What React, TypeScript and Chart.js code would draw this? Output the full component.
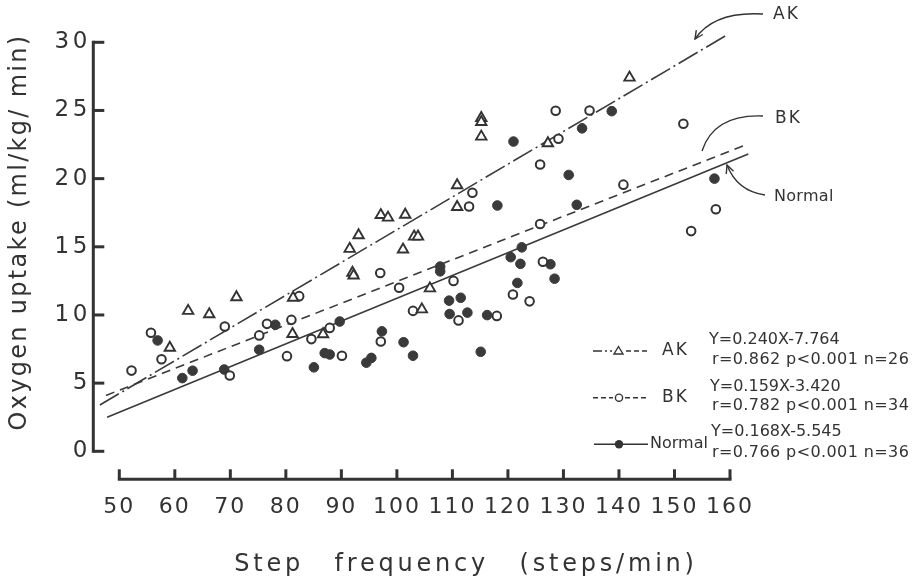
import React, { useEffect, useRef } from "react";
import { Chart, registerables } from "chart.js";

Chart.register(...registerables);

// ---- data ----
const AK_X = [59.1, 62.4, 66.2, 71.1, 81.2, 81.3, 86.7, 91.5, 92.0, 92.2, 93.1, 97.1, 98.4, 101.1, 101.5, 103.1, 103.8, 104.5, 105.95, 110.85, 110.85, 115.2, 115.2, 115.2, 127.2, 141.9];
const AK_Y = [7.6, 10.3, 10.05, 11.3, 8.6, 11.26, 8.59, 14.85, 13.1, 12.9, 15.85, 17.33, 17.14, 14.8, 17.35, 15.75, 15.75, 10.41, 11.95, 19.52, 17.92, 24.45, 24.15, 23.08, 22.6, 27.41];

const BK_X = [52.2, 55.7, 57.6, 69.0, 69.9, 75.2, 76.6, 80.2, 81.0, 82.4, 84.6, 87.9, 90.1, 97.0, 97.1, 100.4, 102.9, 110.2, 111.1, 113.0, 113.6, 118.0, 120.9, 123.9, 125.8, 125.8, 126.3, 128.6, 129.1, 134.7, 140.8, 151.6, 153.0, 157.45];
const BK_Y = [5.92, 8.7, 6.75, 9.15, 5.56, 8.5, 9.35, 6.98, 9.64, 11.38, 8.23, 9.05, 7.01, 13.08, 8.05, 12.0, 10.3, 12.5, 9.6, 17.96, 18.96, 9.93, 11.5, 11.0, 21.04, 16.67, 13.9, 24.98, 22.93, 25.0, 19.56, 24.03, 16.15, 17.75];

const NORMAL_X = [56.9, 61.35, 63.2, 68.9, 75.2, 78.1, 85.05, 87.0, 87.9, 89.7, 94.5, 95.4, 97.3, 101.2, 102.9, 107.8, 107.8, 109.4, 109.5, 111.5, 112.7, 115.1, 116.25, 118.1, 120.5, 121.0, 121.7, 122.25, 122.5, 127.65, 128.4, 130.95, 132.4, 133.35, 138.7, 157.2];
const NORMAL_Y = [8.13, 5.37, 5.91, 6.0, 7.45, 9.28, 6.16, 7.2, 7.1, 9.52, 6.5, 6.85, 8.8, 8.0, 7.01, 13.55, 13.2, 11.05, 10.07, 11.26, 10.17, 7.3, 9.99, 18.03, 14.24, 22.72, 12.35, 13.75, 14.96, 13.72, 12.66, 20.27, 18.08, 23.69, 24.95, 20.0];

// regression line end points (as drawn)
const AK_FIT_X = [46.5, 159.3];
const AK_FIT_Y = [3.4, 30.5];
const BK_FIT_X = [47.6, 163.0];
const BK_FIT_Y = [4.1, 22.5];
const NORMAL_FIT_X = [47.8, 163.3];
const NORMAL_FIT_Y = [2.5, 21.8];

const X_TICKS = [50, 60, 70, 80, 90, 100, 110, 120, 130, 140, 150, 160];
const Y_TICKS = [0, 5, 10, 15, 20, 25, 30];

const SERIES_LABELS = ["AK", "BK", "Normal"];
const EQUATIONS = ["Y=0.240X-7.764", "Y=0.159X-3.420", "Y=0.168X-5.545"];
const STATS = ["r=0.862 p<0.001 n=26", "r=0.782 p<0.001 n=34", "r=0.766 p<0.001 n=36"];

const X_TITLE = "Step frequency (steps/min)";
const Y_TITLE = "Oxygen uptake (ml/kg/ min)";

const FONT = "'DejaVu Sans', sans-serif";
const INK = "#333333";

const pts = (xs: number[], ys: number[]) => xs.map((x, i) => ({ x, y: ys[i] }));

function setLS(ctx: any, v: string) {
  try { ctx.letterSpacing = v; } catch (e) {}
}
function setWS(ctx: any, v: string) {
  try { ctx.wordSpacing = v; } catch (e) {}
}

function arrowHead(ctx: CanvasRenderingContext2D, tx: number, ty: number, fx: number, fy: number) {
  const ang = Math.atan2(ty - fy, tx - fx);
  const L = 9;
  ctx.beginPath();
  ctx.moveTo(tx - L * Math.cos(ang - 0.45), ty - L * Math.sin(ang - 0.45));
  ctx.lineTo(tx, ty);
  ctx.lineTo(tx - L * Math.cos(ang + 0.45), ty - L * Math.sin(ang + 0.45));
  ctx.stroke();
}

const decorPlugin = {
  id: "decor",
  beforeDraw(chart: any) {
    setLS(chart.ctx, "3.5px");
  },
  afterDatasetsDraw(chart: any) {
    setLS(chart.ctx, "2px");
  },
  afterDraw(chart: any) {
    const ctx: CanvasRenderingContext2D = chart.ctx;
    const xs = chart.scales.x;
    const ys = chart.scales.y;
    ctx.save();
    ctx.strokeStyle = INK;
    ctx.fillStyle = INK;
    ctx.lineCap = "butt";

    // detached y axis
    const ax = xs.left - 26;
    ctx.lineWidth = 3;
    ctx.beginPath();
    ctx.moveTo(ax, ys.getPixelForValue(30) - 1.5);
    ctx.lineTo(ax, ys.getPixelForValue(0) + 1.5);
    ctx.stroke();
    Y_TICKS.forEach((v) => {
      const py = ys.getPixelForValue(v);
      ctx.beginPath();
      ctx.moveTo(ax, py);
      ctx.lineTo(ax + 11, py);
      ctx.stroke();
    });

    // detached x axis
    const ay = ys.bottom + 28;
    ctx.beginPath();
    ctx.moveTo(xs.getPixelForValue(50) - 1.5, ay);
    ctx.lineTo(xs.getPixelForValue(160) + 1.5, ay);
    ctx.stroke();
    X_TICKS.forEach((v) => {
      const px = xs.getPixelForValue(v);
      ctx.beginPath();
      ctx.moveTo(px, ay);
      ctx.lineTo(px, ay - 10);
      ctx.stroke();
    });

    // axis titles
    ctx.textBaseline = "middle";
    ctx.textAlign = "center";
    ctx.font = `24px ${FONT}`;
    setLS(ctx, "3.8px");
    setWS(ctx, "19px");
    ctx.fillText(X_TITLE, 466, 565);
    setWS(ctx, "0px");
    ctx.save();
    ctx.translate(20, 232);
    ctx.rotate(-Math.PI / 2);
    setLS(ctx, "2.3px");
    ctx.fillText(Y_TITLE, 0, 0);
    ctx.restore();

    // legend
    const rowsY = [351, 397.7, 444.3];
    ctx.lineWidth = 1.4;
    // AK sample
    ctx.setLineDash([9, 3, 2, 3, 2, 3]);
    ctx.beginPath(); ctx.moveTo(593, rowsY[0]); ctx.lineTo(612, rowsY[0]); ctx.stroke();
    ctx.setLineDash([5, 3]);
    ctx.beginPath(); ctx.moveTo(626, rowsY[0]); ctx.lineTo(648, rowsY[0]); ctx.stroke();
    ctx.setLineDash([]);
    ctx.beginPath();
    ctx.moveTo(618.5, rowsY[0] - 4.5);
    ctx.lineTo(623, rowsY[0] + 3);
    ctx.lineTo(614, rowsY[0] + 3);
    ctx.closePath();
    ctx.stroke();
    // BK sample
    ctx.setLineDash([5, 3]);
    ctx.beginPath(); ctx.moveTo(593, rowsY[1]); ctx.lineTo(613, rowsY[1]); ctx.stroke();
    ctx.beginPath(); ctx.moveTo(625, rowsY[1]); ctx.lineTo(648, rowsY[1]); ctx.stroke();
    ctx.setLineDash([]);
    ctx.beginPath(); ctx.arc(619, rowsY[1], 3.6, 0, Math.PI * 2); ctx.stroke();
    // Normal sample
    ctx.beginPath(); ctx.moveTo(594, rowsY[2]); ctx.lineTo(648, rowsY[2]); ctx.stroke();
    ctx.beginPath(); ctx.arc(619, rowsY[2], 4.2, 0, Math.PI * 2); ctx.fill();

    ctx.textAlign = "left";
    ctx.textBaseline = "middle";
    ctx.font = `17px ${FONT}`;
    setLS(ctx, "2px");
    ctx.fillText(SERIES_LABELS[0], 662, rowsY[0]);
    ctx.fillText(SERIES_LABELS[1], 662, rowsY[1]);
    ctx.font = `16px ${FONT}`;
    setLS(ctx, "0px");
    ctx.fillText(SERIES_LABELS[2], 650, rowsY[2]);

    ctx.font = `16px ${FONT}`;
    const eqY = [340, 387, 431.7];
    const stY = [360, 406, 452.7];
    setLS(ctx, "0px");
    EQUATIONS.forEach((t, i) => ctx.fillText(t, 709 + i, eqY[i]));
    setLS(ctx, "0.4px");
    STATS.forEach((t, i) => ctx.fillText(t, 712, stY[i]));

    // annotations with curved pointers
    ctx.lineWidth = 1.4;
    ctx.font = `17px ${FONT}`;
    setLS(ctx, "2px");
    ctx.fillText(SERIES_LABELS[0], 773, 15);
    ctx.fillText(SERIES_LABELS[1], 775, 119);
    ctx.font = `16px ${FONT}`;
    setLS(ctx, "0.3px");
    ctx.fillText(SERIES_LABELS[2], 774, 197);

    ctx.beginPath();
    ctx.moveTo(763, 14);
    ctx.quadraticCurveTo(714, 11, 695, 39);
    ctx.stroke();
    arrowHead(ctx, 695, 39, 714, 11);

    ctx.beginPath();
    ctx.moveTo(763, 116);
    ctx.quadraticCurveTo(714, 114, 702, 151);
    ctx.stroke();

    ctx.beginPath();
    ctx.moveTo(765, 195);
    ctx.quadraticCurveTo(737, 191, 727, 165);
    ctx.stroke();
    arrowHead(ctx, 727, 165, 737, 191);

    ctx.restore();
    setLS(ctx, "0px");
  },
};

export default function App() {
  const ref = useRef<HTMLCanvasElement | null>(null);

  useEffect(() => {
    document.body.style.margin = "0";
    const canvas = ref.current;
    if (!canvas) return;

    const scatterBase = {
      borderColor: INK,
      order: 0,
    };
    const fitBase = {
      type: "line" as const,
      showLine: true,
      pointRadius: 0,
      borderColor: "#3a3a3a",
      borderWidth: 1.6,
      fill: false,
      clip: false as any,
      order: 10,
    };

    const chart = new Chart(canvas, {
      type: "scatter",
      data: {
        datasets: [
          {
            ...fitBase,
            label: "AK fit",
            data: pts(AK_FIT_X, AK_FIT_Y),
            borderDash: [22, 4, 2, 4],
          } as any,
          {
            ...fitBase,
            label: "BK fit",
            data: pts(BK_FIT_X, BK_FIT_Y),
            borderDash: [9, 6],
          } as any,
          {
            ...fitBase,
            label: "Normal fit",
            data: pts(NORMAL_FIT_X, NORMAL_FIT_Y),
          } as any,
          {
            ...scatterBase,
            label: SERIES_LABELS[0],
            data: pts(AK_X, AK_Y),
            pointStyle: "triangle",
            pointRadius: 6,
            borderWidth: 1.9,
            backgroundColor: "#ffffff",
          },
          {
            ...scatterBase,
            label: SERIES_LABELS[1],
            data: pts(BK_X, BK_Y),
            pointStyle: "circle",
            pointRadius: 4.3,
            borderWidth: 2,
            backgroundColor: "#ffffff",
          },
          {
            ...scatterBase,
            label: SERIES_LABELS[2],
            data: pts(NORMAL_X, NORMAL_Y),
            pointStyle: "circle",
            pointRadius: 4.8,
            borderWidth: 1,
            borderColor: "#3a3a3a",
            backgroundColor: "#3a3a3a",
          },
        ],
      },
      options: {
        responsive: false,
        animation: false,
        events: [],
        layout: { padding: { left: 0, right: 183, top: 39.3, bottom: 0 } },
        plugins: {
          legend: { display: false },
          tooltip: { enabled: false },
          title: { display: false },
        },
        scales: {
          x: {
            type: "linear",
            min: 50,
            max: 160,
            afterBuildTicks: (s: any) => {
              s.ticks = X_TICKS.map((v) => ({ value: v }));
            },
            afterFit: (s: any) => {
              s.height = 132.7;
            },
            grid: { display: false, drawTicks: false },
            border: { display: false },
            ticks: {
              z: 1,
              autoSkip: false,
              maxRotation: 0,
              padding: 43,
              color: INK,
              font: { family: FONT, size: 22 },
            },
          },
          y: {
            type: "linear",
            min: 0,
            max: 30,
            afterBuildTicks: (s: any) => {
              s.ticks = Y_TICKS.map((v) => ({ value: v }));
            },
            afterFit: (s: any) => {
              s.width = 119.3;
            },
            grid: { display: false, drawTicks: false },
            border: { display: false },
            ticks: {
              padding: 28.5,
              color: INK,
              font: { family: FONT, size: 23 },
            },
          },
        },
      },
      plugins: [decorPlugin],
    });

    return () => chart.destroy();
  }, []);

  return (
    <div style={{ width: 913, height: 584, position: "relative", background: "#fff" }}>
      <canvas ref={ref} width={913} height={584} style={{ width: 913, height: 584, display: "block" }} />
    </div>
  );
}
